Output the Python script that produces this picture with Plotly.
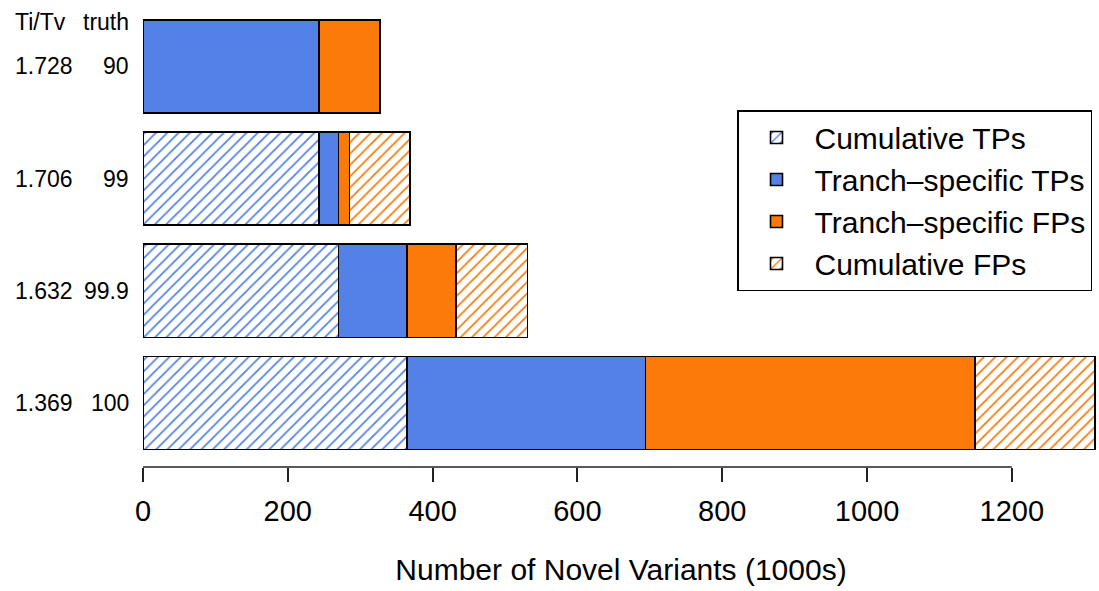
import plotly.graph_objects as go

# Data (thousands of novel variants)
tranches = ["90", "99", "99.9", "100"]
titv = ["1.728", "1.706", "1.632", "1.369"]
cumulative_tps = [0, 243, 270, 365]
tranche_tps = [243, 27, 95, 329]
tranche_fps = [84, 15, 67, 455]
cumulative_fps = [0, 84, 99, 166]
x_ticks = [0, 200, 400, 600, 800, 1000, 1200]

BLUE = "#5381E6"
ORANGE = "#FB7A0A"
FONT = "Liberation Sans, Arial, Helvetica, sans-serif"

W, H = 1099, 591
L, R, T, B = 143, 0, 10, 124
ypos = [3, 2, 1, 0]  # top to bottom

fig = go.Figure()
line = dict(color="black", width=1.6)
series = [
    ("Cumulative TPs", cumulative_tps, BLUE, True),
    ("Tranch\u2013specific TPs", tranche_tps, BLUE, False),
    ("Tranch\u2013specific FPs", tranche_fps, ORANGE, False),
    ("Cumulative FPs", cumulative_fps, ORANGE, True),
]
for name, vals, col, hatched in series:
    if hatched:
        marker = dict(color="white", line=line,
                      pattern=dict(shape="/", fgcolor=col, bgcolor="white",
                                   fgopacity=1, size=8, solidity=0.22,
                                   fillmode="overlay"))
    else:
        marker = dict(color=col, line=line)
    fig.add_trace(go.Bar(x=vals, y=ypos, orientation="h", name=name,
                         marker=marker, width=0.83, hoverinfo="skip"))

# left-hand labels
lab_font = dict(size=23, family=FONT, color="black")
ann = [
    dict(x=-(L - 13) / (W - L - R), y=3.4, xref="paper", yref="y", text="Ti/Tv",
         xanchor="left", showarrow=False, font=lab_font),
    dict(x=-(L - 131) / (W - L - R), y=3.4, xref="paper", yref="y", text="truth",
         xanchor="right", showarrow=False, font=lab_font),
]
for yp, a, t in zip(ypos, titv, tranches):
    ann.append(dict(x=-(L - 13) / (W - L - R), y=yp, xref="paper", yref="y", text=a,
                    xanchor="left", showarrow=False, font=lab_font))
    ann.append(dict(x=-(L - 131) / (W - L - R), y=yp, xref="paper", yref="y", text=t,
                    xanchor="right", showarrow=False, font=lab_font))

fig.update_layout(
    width=W, height=H,
    margin=dict(l=L, r=R, t=T, b=B, autoexpand=False),
    paper_bgcolor="white", plot_bgcolor="white",
    barmode="stack",
    font=dict(family=FONT, color="black"),
    annotations=ann,
    showlegend=True,
    legend=dict(x=(737 - L) / (W - L - R), y=(H - B - 110) / (H - B - T),
                xanchor="left", yanchor="top", traceorder="normal",
                itemwidth=66,
                bgcolor="white", bordercolor="black", borderwidth=1.5,
                font=dict(size=30, family=FONT, color="black")),
    shapes=[dict(type="line", xref="x", yref="paper", x0=0, x1=1200, y0=0, y1=0,
                 line=dict(color="#222", width=1.5))],
)
fig.update_xaxes(range=[0, (W - L - R) / 0.724], tickvals=x_ticks,
                 ticktext=[str(v) for v in x_ticks],
                 ticks="outside", ticklen=14, tickwidth=1.5, tickcolor="#222",
                 ticklabelstandoff=4,
                 showline=False, showgrid=False, zeroline=False,
                 tickfont=dict(size=29, family=FONT, color="black"),
                 title=dict(text="Number of Novel Variants (1000s)", standoff=33,
                            font=dict(size=30, family=FONT, color="black")))
fig.update_yaxes(range=[-0.570, 3.503], showticklabels=False, showgrid=False,
                 zeroline=False, showline=False, ticks="")

fig.write_html("out.html")
